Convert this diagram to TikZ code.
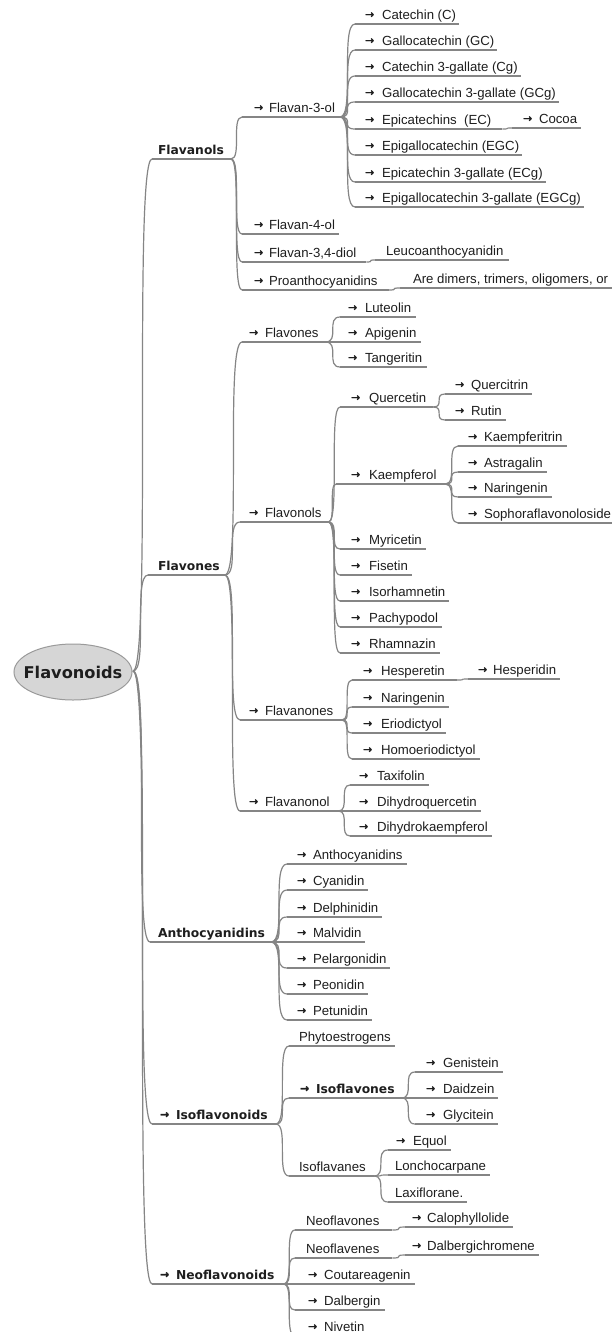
\documentclass[tikz,border=0pt]{standalone}
\usepackage{fontspec}
\setmainfont{Liberation Sans}
\newfontfamily\boldfont{DejaVu Sans}
\newfontfamily\arrowfont{DejaVu Sans}[FakeBold=1.6]
\usetikzlibrary{shapes.geometric,calc}
\definecolor{linec}{HTML}{858585}
\definecolor{textc}{HTML}{1E1E1E}
\definecolor{rootfill}{HTML}{D6D6D6}
\definecolor{rootdraw}{HTML}{9A9A9A}
\newcommand\ar[1][17pt]{\makebox[#1][l]{\raisebox{1.4pt}{\arrowfont\fontsize{11}{11}\selectfont →}}}
\tikzset{
  lbl/.style={inner sep=0pt, outer sep=0pt, text=textc, anchor=base west, font=\fontsize{13.2}{14}\selectfont},
  blbl/.style={lbl, font=\boldfont\bfseries\fontsize{12.3}{14}\selectfont},
  ul/.style={draw=linec, line width=1.2pt},
  conn/.style={draw=linec, line width=1.2pt},
  rootnode/.style={ellipse, draw=rootdraw, fill=rootfill, line width=1pt, minimum width=118pt, minimum height=56pt, inner sep=0pt, text=textc, font=\boldfont\bfseries\fontsize{16.2}{18}\selectfont}
}
% #1 style, #2 name, #3 left x of underline, #4 underline y, #5 text x, #6 pad, #7 text
\newcommand\mn[7]{%
  \node[#1] (#2) at (#5,#4-4.5) {#7};
  \coordinate (#2s) at (#3,#4);
  \coordinate (#2e) at ($(#2s -| #2.east)+(#6,0)$);
  \draw[ul] (#2s) -- (#2e);
}
\newcommand\lk[2]{\draw[conn] (#1e) .. controls (#2s |- #1e) and (#1e |- #2s) .. (#2s);}
\begin{document}
\begin{tikzpicture}[x=1pt,y=-1pt]
\useasboundingbox (0,0) rectangle (612,1332);
\fill[white] (0,0) rectangle (612,1332);
\begin{scope}
\clip (0,0) rectangle (612,1332);
% root
\node[rootnode] (root) at (73,672) {\makebox[0pt]{Flavonoids}};
\coordinate (roote) at (133,671);
% level 1
\mn{blbl}{fvnl}{152}{159}{158}{7}{Flavanols}
\mn{blbl}{fvne}{148}{575}{158}{5}{Flavones}
\mn{blbl}{anth}{150}{942}{158}{6}{Anthocyanidins}
\mn{blbl}{isof}{152}{1124}{160}{8}{\ar[16pt]Isoflavonoids}
\mn{blbl}{neof}{152}{1284}{160}{9}{\ar[16pt]Neoflavonoids}
\lk{root}{fvnl}\lk{root}{fvne}\lk{root}{anth}\lk{root}{isof}\lk{root}{neof}
% Flavanols
\mn{lbl}{fthr}{242}{117}{254}{5}{\ar[15pt]Flavan-3-ol}
\mn{lbl}{ffour}{242}{234}{254}{4}{\ar[15pt]Flavan-4-ol}
\mn{lbl}{fdiol}{242}{262}{254}{10}{\ar[15pt]Flavan-3,4-diol}
\mn{lbl}{proa}{242}{290}{254}{11}{\ar[15pt]Proanthocyanidins}
\lk{fvnl}{fthr}\lk{fvnl}{ffour}\lk{fvnl}{fdiol}\lk{fvnl}{proa}
\mn{lbl}{leuc}{375}{260}{386}{6}{Leucoanthocyanidin}
\mn{lbl}{dime}{400}{288}{413}{6}{Are dimers, trimers, oligomers, or}
\lk{fdiol}{leuc}\lk{proa}{dime}
% Flavan-3-ol
\mn{lbl}{cat}{355}{24}{365}{3}{\ar Catechin (C)}
\mn{lbl}{gc}{355}{50}{365}{3}{\ar Gallocatechin (GC)}
\mn{lbl}{cg}{355}{76}{365}{3}{\ar Catechin 3-gallate (Cg)}
\mn{lbl}{gcg}{355}{102}{365}{3}{\ar Gallocatechin 3-gallate (GCg)}
\mn{lbl}{ec}{355}{129}{365}{11}{\ar Epicatechins\ \ (EC)}
\mn{lbl}{egc}{355}{155}{365}{3}{\ar Epigallocatechin (EGC)}
\mn{lbl}{ecg}{355}{182}{365}{3}{\ar Epicatechin 3-gallate (ECg)}
\mn{lbl}{egcg}{355}{207}{365}{3}{\ar Epigallocatechin 3-gallate (EGCg)}
\lk{fthr}{cat}\lk{fthr}{gc}\lk{fthr}{cg}\lk{fthr}{gcg}\lk{fthr}{ec}\lk{fthr}{egc}\lk{fthr}{ecg}\lk{fthr}{egcg}
\mn{lbl}{cocoa}{512}{128}{523}{4}{\ar[16pt]Cocoa}
\lk{ec}{cocoa}
% Flavones (bold) children
\mn{lbl}{flvs}{242}{342}{249}{7}{\ar[16pt]Flavones}
\mn{lbl}{flvl}{240}{522}{249}{7}{\ar[16pt]Flavonols}
\mn{lbl}{flvn}{240}{720}{249}{9}{\ar[16pt]Flavanones}
\mn{lbl}{flvo}{240}{811}{249}{9}{\ar[16pt]Flavanonol}
\lk{fvne}{flvs}\lk{fvne}{flvl}\lk{fvne}{flvn}\lk{fvne}{flvo}
% Flavones sub
\mn{lbl}{lut}{340}{317}{348}{5}{\ar Luteolin}
\mn{lbl}{api}{340}{342}{348}{5}{\ar Apigenin}
\mn{lbl}{tan}{340}{367}{348}{5}{\ar Tangeritin}
\lk{flvs}{lut}\lk{flvs}{api}\lk{flvs}{tan}
% Flavonols
\mn{lbl}{que}{340}{407}{351}{7}{\ar[18pt]Quercetin}
\mn{lbl}{kae}{336}{484}{351}{9}{\ar[18pt]Kaempferol}
\mn{lbl}{myr}{340}{549}{351}{4}{\ar[18pt]Myricetin}
\mn{lbl}{fis}{340}{575}{351}{4}{\ar[18pt]Fisetin}
\mn{lbl}{iso}{340}{601}{351}{4}{\ar[18pt]Isorhamnetin}
\mn{lbl}{pac}{340}{627}{351}{4}{\ar[18pt]Pachypodol}
\mn{lbl}{rha}{340}{653}{351}{4}{\ar[18pt]Rhamnazin}
\lk{flvl}{que}\lk{flvl}{kae}\lk{flvl}{myr}\lk{flvl}{fis}\lk{flvl}{iso}\lk{flvl}{pac}\lk{flvl}{rha}
\mn{lbl}{qcit}{445}{394}{455}{4}{\ar[16pt]Quercitrin}
\mn{lbl}{rut}{445}{420}{455}{4}{\ar[16pt]Rutin}
\lk{que}{qcit}\lk{que}{rut}
\mn{lbl}{kaet}{458}{446}{468}{4}{\ar[16pt]Kaempferitrin}
\mn{lbl}{ast}{458}{472}{468}{4}{\ar[16pt]Astragalin}
\mn{lbl}{nara}{458}{497}{468}{4}{\ar[16pt]Naringenin}
\mn{lbl}{sop}{458}{523}{468}{4}{\ar[16pt]Sophoraflavonoloside}
\lk{kae}{kaet}\lk{kae}{ast}\lk{kae}{nara}\lk{kae}{sop}
% Flavanones
\mn{lbl}{hes}{352}{680}{363}{12}{\ar[18pt]Hesperetin}
\mn{lbl}{narb}{352}{707}{363}{4}{\ar[18pt]Naringenin}
\mn{lbl}{eri}{352}{733}{363}{4}{\ar[18pt]Eriodictyol}
\mn{lbl}{hom}{352}{759}{363}{4}{\ar[18pt]Homoeriodictyol}
\lk{flvn}{hes}\lk{flvn}{narb}\lk{flvn}{eri}\lk{flvn}{hom}
\mn{lbl}{hesd}{468}{679}{478}{4}{\ar[15pt]Hesperidin}
\lk{hes}{hesd}
% Flavanonol
\mn{lbl}{tax}{350}{785}{359}{4}{\ar[18pt]Taxifolin}
\mn{lbl}{dhq}{350}{811}{359}{4}{\ar[18pt]Dihydroquercetin}
\mn{lbl}{dhk}{350}{836}{359}{4}{\ar[18pt]Dihydrokaempferol}
\lk{flvo}{tax}\lk{flvo}{dhq}\lk{flvo}{dhk}
% Anthocyanidins
\mn{lbl}{ant}{287}{864}{297}{4}{\ar[16pt]Anthocyanidins}
\mn{lbl}{cya}{287}{890}{297}{4}{\ar[16pt]Cyanidin}
\mn{lbl}{del}{287}{917}{297}{4}{\ar[16pt]Delphinidin}
\mn{lbl}{mal}{287}{942}{297}{4}{\ar[16pt]Malvidin}
\mn{lbl}{pel}{287}{968}{297}{4}{\ar[16pt]Pelargonidin}
\mn{lbl}{peo}{287}{994}{297}{4}{\ar[16pt]Peonidin}
\mn{lbl}{pet}{287}{1020}{297}{4}{\ar[16pt]Petunidin}
\lk{anth}{ant}\lk{anth}{cya}\lk{anth}{del}\lk{anth}{mal}\lk{anth}{pel}\lk{anth}{peo}\lk{anth}{pet}
% Isoflavonoids
\mn{lbl}{phy}{289}{1046}{299}{4}{Phytoestrogens}
\mn{blbl}{isfv}{289}{1098}{300}{7}{\ar[16pt]Isoflavones}
\mn{lbl}{isfa}{289}{1176}{299}{8}{Isoflavanes}
\lk{isof}{phy}\lk{isof}{isfv}\lk{isof}{isfa}
\mn{lbl}{gen}{415}{1072}{426}{4}{\ar Genistein}
\mn{lbl}{dai}{415}{1098}{426}{4}{\ar Daidzein}
\mn{lbl}{gly}{415}{1124}{426}{4}{\ar Glycitein}
\lk{isfv}{gen}\lk{isfv}{dai}\lk{isfv}{gly}
\mn{lbl}{equ}{388}{1150}{396}{4}{\ar Equol}
\mn{lbl}{lon}{388}{1175}{395}{4}{Lonchocarpane}
\mn{lbl}{lax}{388}{1202}{395}{4}{Laxiflorane.}
\lk{isfa}{equ}\lk{isfa}{lon}\lk{isfa}{lax}
% Neoflavonoids
\mn{lbl}{nfvs}{295}{1230}{306}{13}{Neoflavones}
\mn{lbl}{nfve}{295}{1258}{306}{13}{Neoflavenes}
\mn{lbl}{cou}{295}{1284}{308}{4}{\ar[16pt]Coutareagenin}
\mn{lbl}{dal}{295}{1310}{308}{4}{\ar[16pt]Dalbergin}
\mn{lbl}{niv}{295}{1336}{308}{4}{\ar[16pt]Nivetin}
\lk{neof}{nfvs}\lk{neof}{nfve}\lk{neof}{cou}\lk{neof}{dal}\lk{neof}{niv}
\mn{lbl}{calo}{405}{1227}{412}{4}{\ar[15pt]Calophyllolide}
\mn{lbl}{dalc}{405}{1255}{412}{4}{\ar[15pt]Dalbergichromene}
\lk{nfvs}{calo}\lk{nfve}{dalc}
\end{scope}
\end{tikzpicture}
\end{document}
